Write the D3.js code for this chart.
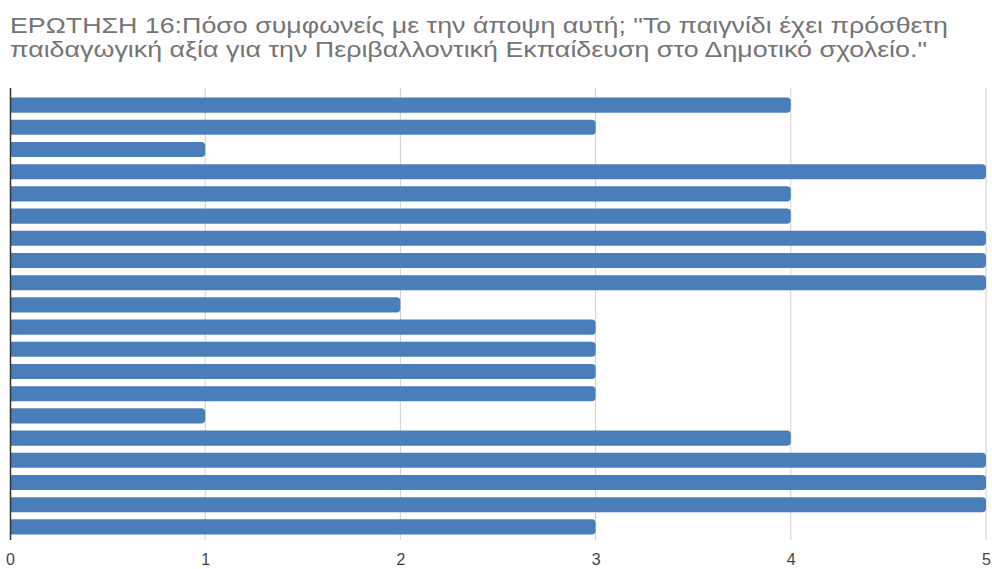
<!DOCTYPE html>
<html>
<head>
<meta charset="utf-8">
<script src="https://cdn.jsdelivr.net/npm/d3@7"></script>
<style>
  body { margin: 0; background: #fff; }
  svg { display: block; }
</style>
</head>
<body>
<figure id="bars" style="margin:0"></figure>
<script>
// chart data
const titleLines = [
  'ΕΡΩΤΗΣΗ 16:Πόσο συμφωνείς με την άποψη αυτή; "Το παιγνίδι έχει πρόσθετη',
  'παιδαγωγική αξία για την Περιβαλλοντική Εκπαίδευση στο Δημοτικό σχολείο."'
];
const titleWidths = [938, 917];
const respondents = d3.range(1, 21);
const answers = [4, 3, 1, 5, 4, 4, 5, 5, 5, 2, 3, 3, 3, 3, 1, 4, 5, 5, 5, 3];
const xTicks = [0, 1, 2, 3, 4, 5];

const width = 992, height = 569;
const plotLeft = 10, plotRight = 986, plotTop = 88, plotBottom = 540;

const svg = d3.select("figure#bars")
  .append("svg")
  .attr("width", width)
  .attr("height", height);

// title
svg.append("g").selectAll("text")
  .data(titleLines)
  .enter()
  .append("text")
  .attr("x", 10)
  .attr("y", (d, i) => 33 + i * 24)
  .attr("textLength", (d, i) => titleWidths[i])
  .attr("lengthAdjust", "spacingAndGlyphs")
  .style("font-family", "Liberation Sans, Arial, sans-serif")
  .style("font-size", "22.5px")
  .style("fill", "#757575")
  .text(d => d);

const x = d3.scaleLinear()
  .domain([0, 5])
  .range([plotLeft, plotRight]);

const y = d3.scaleBand()
  .domain(respondents)
  .range([94, 538])
  .paddingInner(0.32)
  .paddingOuter(0.16);

// grid lines
svg.append("g")
  .selectAll("line")
  .data(xTicks.slice(1))
  .enter()
  .append("line")
  .attr("x1", d => x(d))
  .attr("x2", d => x(d))
  .attr("y1", plotTop)
  .attr("y2", plotBottom)
  .style("stroke", "#d0d0d0")
  .style("stroke-width", 1);

// bars
svg.append("g")
  .selectAll("path")
  .data(answers)
  .enter()
  .append("path")
  .attr("d", (d, i) => {
    const x0 = x(0), x1 = x(d), y0 = y(respondents[i]), h = y.bandwidth(), r = 4;
    return `M${x0},${y0}H${x1 - r}Q${x1},${y0} ${x1},${y0 + r}V${y0 + h - r}Q${x1},${y0 + h} ${x1 - r},${y0 + h}H${x0}Z`;
  })
  .style("fill", "#4a7ebb");

// axis line
svg.append("line")
  .attr("x1", x(0) + 0.5)
  .attr("x2", x(0) + 0.5)
  .attr("y1", plotTop)
  .attr("y2", plotBottom)
  .style("stroke", "#333")
  .style("stroke-width", 1.5);

// tick labels
const xAxis = svg.append("g")
  .attr("transform", "translate(0," + 554 + ")")
  .call(d3.axisBottom(x).tickValues(xTicks).tickSize(0).tickPadding(0).tickFormat(d3.format("d")));
xAxis.select(".domain").remove();
xAxis.selectAll("text")
  .style("font-family", "Liberation Sans, Arial, sans-serif")
  .style("font-size", "16px")
  .style("fill", "#444");
</script>
</body>
</html>
